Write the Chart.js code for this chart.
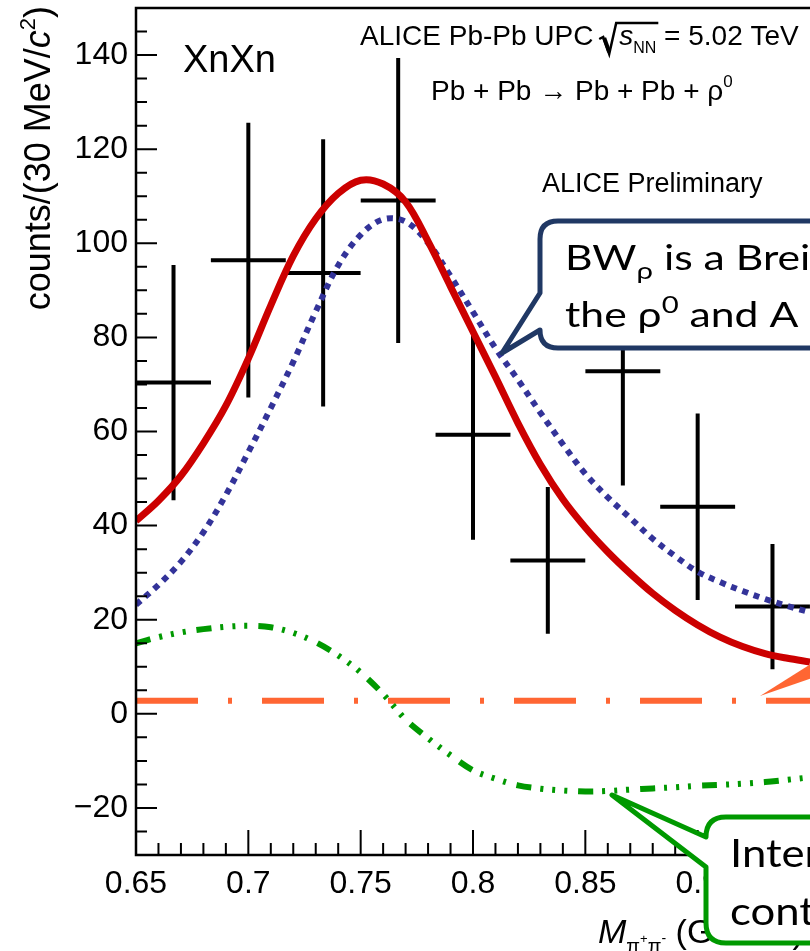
<!DOCTYPE html>
<html>
<head>
<meta charset="utf-8">
<script src="https://cdn.jsdelivr.net/npm/chart.js@4.4.1/dist/chart.umd.min.js"></script>
<style>
  html, body { margin: 0; padding: 0; background: #fff; overflow: hidden; }
</style>
</head>
<body>
<canvas id="massChart" width="810" height="951"></canvas>
<script>
// measured spectrum (bin centres in GeV/c^2, counts, symmetric stat. errors)
const binCenters = [0.6667, 0.7, 0.7333, 0.7667, 0.8, 0.8333, 0.8667, 0.9, 0.9333];
const binHalfWidth = 0.01667;
const counts = [70.4, 96.4, 93.7, 109.1, 59.3, 32.6, 72.8, 44.0, 22.8];
const countErrors = [25.0, 29.2, 28.4, 30.3, 22.3, 15.6, 24.3, 19.8, 13.3];

// fit components
const curveMass = [0.65, 0.66, 0.67, 0.68, 0.69, 0.70, 0.71, 0.72, 0.73, 0.74, 0.75,
                   0.76, 0.77, 0.78, 0.79, 0.80, 0.81, 0.82, 0.83, 0.84, 0.85,
                   0.86, 0.87, 0.88, 0.89, 0.90, 0.91, 0.92, 0.93, 0.94, 0.95];
const totalFit = [41.0, 45.3, 50.6, 57.5, 65.5, 75.5, 86.8, 97.3, 105.2, 110.6, 113.4,
                  112.6, 108.8, 100.4, 90.8, 81.2, 71.6, 61.8, 53.0, 45.6, 39.6,
                  34.4, 29.8, 25.6, 22.0, 18.9, 16.3, 14.3, 12.8, 11.8, 11.0];
const rhoBW = [23.2, 27.4, 32.3, 38.6, 46.5, 55.6, 65.0, 74.8, 85.5, 95.3, 101.8,
               105.1, 104.6, 100.1, 93.0, 85.4, 77.7, 71.0, 64.0, 57.3, 51.0,
               46.0, 41.6, 37.2, 33.5, 30.2, 28.0, 26.1, 24.4, 22.9, 21.6];
const interference = [15.0, 16.3, 17.3, 18.0, 18.5, 18.7, 18.4, 17.2, 15.2, 12.4, 8.8,
                      4.2, -1.2, -5.2, -8.8, -12.0, -13.8, -15.2, -15.9, -16.3, -16.5,
                      -16.4, -16.1, -15.85, -15.6, -15.3, -15.1, -14.85, -14.5, -14.0, -13.5];
const bkgMass = [0.65, 0.95];
const bkgLevel = [2.8, 2.8];

const xTickValues = [0.65, 0.7, 0.75, 0.8, 0.85, 0.9];
const yTickValues = [-20, 0, 20, 40, 60, 80, 100, 120, 140];
const xMinorStep = 0.01;
const yMinorStep = 5;

const LS = '"Liberation Sans", Arial, sans-serif';
const CAL = 'Lato, "Open Sans", sans-serif';

function toPoints(xs, ys) {
    return xs.map((v, i) => ({ x: v, y: ys[i] }));
}

function richWidth(ctx, parts) {
    let w = 0;
    for (const p of parts) { ctx.font = p.font; w += ctx.measureText(p.t).width; }
    return w;
}

function drawRich(ctx, parts, x, y) {
    for (const p of parts) {
        ctx.font = p.font;
        ctx.fillText(p.t, x, y + (p.dy || 0));
        x += ctx.measureText(p.t).width;
    }
    return x;
}

const overlayPlugin = {
    id: 'overlay',
    beforeDatasetsDraw(chart) {
        // error bars of the data points
        const { ctx, chartArea: a } = chart;
        const x = chart.scales.x, y = chart.scales.y;
        ctx.save();
        ctx.beginPath();
        ctx.rect(a.left, a.top, a.right - a.left, a.bottom - a.top);
        ctx.clip();
        ctx.strokeStyle = '#000';
        ctx.lineWidth = 4;
        binCenters.forEach((m, i) => {
            const px = x.getPixelForValue(m);
            const py = y.getPixelForValue(counts[i]);
            ctx.beginPath();
            ctx.moveTo(x.getPixelForValue(m - binHalfWidth), py);
            ctx.lineTo(x.getPixelForValue(m + binHalfWidth), py);
            ctx.moveTo(px, y.getPixelForValue(counts[i] + countErrors[i]));
            ctx.lineTo(px, y.getPixelForValue(counts[i] - countErrors[i]));
            ctx.stroke();
        });
        ctx.restore();
    },
    afterDatasetsDraw(chart) {
        // ROOT style frame with inward ticks
        const { ctx, chartArea: a } = chart;
        const x = chart.scales.x, y = chart.scales.y;
        ctx.save();
        ctx.strokeStyle = '#000';
        ctx.lineWidth = 2.5;
        ctx.beginPath();
        ctx.moveTo(a.right + 5, a.top);
        ctx.lineTo(a.left, a.top);
        ctx.lineTo(a.left, a.bottom);
        ctx.lineTo(a.right + 5, a.bottom);
        ctx.stroke();

        ctx.lineWidth = 2;
        ctx.beginPath();
        for (let v = y.min; v <= y.max + 1e-9; v += yMinorStep) {
            const py = y.getPixelForValue(v);
            const major = yTickValues.some(t => Math.abs(t - v) < 1e-6);
            ctx.moveTo(a.left, py);
            ctx.lineTo(a.left + (major ? 21 : 11), py);
        }
        for (let k = 0; ; k++) {
            const v = x.min + k * xMinorStep;
            if (v > x.max + 1e-9) break;
            const px = x.getPixelForValue(v);
            const major = xTickValues.some(t => Math.abs(t - v) < 1e-6) || Math.abs(v - 0.95) < 1e-6;
            ctx.moveTo(px, a.bottom);
            ctx.lineTo(px, a.bottom - (major ? 25 : 12));
        }
        ctx.stroke();
        ctx.restore();
    },
    afterDraw(chart) {
        const { ctx } = chart;
        ctx.save();
        ctx.fillStyle = '#000';
        ctx.textBaseline = 'alphabetic';
        ctx.textAlign = 'left';

        // y axis title, rotated, right-aligned to the top of the axis
        const yTitle = [
            { t: 'counts/(30 MeV/', font: `36px ${LS}` },
            { t: 'c', font: `italic 36px ${LS}` },
            { t: '2', font: `22px ${LS}`, dy: -15 },
            { t: ')', font: `36px ${LS}` }
        ];
        ctx.save();
        ctx.translate(50, 0);
        ctx.rotate(-Math.PI / 2);
        drawRich(ctx, yTitle, -(6 + richWidth(ctx, yTitle)), 0);
        ctx.restore();

        // x axis title
        drawRich(ctx, [
            { t: 'M', font: `italic 34px ${LS}` },
            { t: 'π', font: `20px ${LS}`, dy: 10 },
            { t: '+', font: `13px ${LS}`, dy: 0 },
            { t: 'π', font: `20px ${LS}`, dy: 10 },
            { t: '-', font: `14px ${LS}`, dy: 0 },
            { t: ' (GeV/', font: `34px ${LS}` },
            { t: 'c', font: `italic 34px ${LS}` },
            { t: '2', font: `20px ${LS}`, dy: -14 },
            { t: ')', font: `34px ${LS}` }
        ], 598, 943);

        // labels inside the frame
        ctx.font = `38px ${LS}`;
        ctx.fillText('XnXn', 183, 72);

        let cx = drawRich(ctx, [{ t: 'ALICE Pb-Pb UPC ', font: `28px ${LS}` }], 360, 45);
        ctx.font = `italic 28px ${LS}`;
        const sW = ctx.measureText('s').width;
        ctx.font = `16px ${LS}`;
        const nnW = ctx.measureText('NN').width;
        ctx.strokeStyle = '#000';
        ctx.lineWidth = 2.5;
        ctx.beginPath();
        ctx.moveTo(cx - 2, 39);
        ctx.lineTo(cx + 2, 37);
        ctx.lineTo(cx + 8, 54);
        ctx.lineTo(cx + 15, 23);
        ctx.lineTo(cx + 20 + sW + nnW, 23);
        ctx.stroke();
        ctx.lineWidth = 4;
        ctx.beginPath();
        ctx.moveTo(cx + 3, 38);
        ctx.lineTo(cx + 8, 52);
        ctx.stroke();
        drawRich(ctx, [
            { t: 's', font: `italic 28px ${LS}` },
            { t: 'NN', font: `16px ${LS}`, dy: 8 },
            { t: ' = 5.02 TeV', font: `28px ${LS}` }
        ], cx + 18, 45);

        drawRich(ctx, [
            { t: 'Pb + Pb \u2192 Pb + Pb + \u03c1', font: `28px ${LS}` },
            { t: '0', font: `17px ${LS}`, dy: -13 }
        ], 431, 100);

        ctx.font = `27px ${LS}`;
        ctx.fillText('ALICE Preliminary', 542, 192);

        // orange pointer from the off-page background box
        ctx.fillStyle = '#ff6633';
        ctx.beginPath();
        ctx.moveTo(760, 696);
        ctx.lineTo(830, 652);
        ctx.lineTo(830, 672);
        ctx.closePath();
        ctx.fill();

        // callout boxes
        function callout(color, L, T, R, B, r, tip, up, low) {
            ctx.beginPath();
            ctx.moveTo(L + r, T);
            ctx.lineTo(R, T);
            ctx.lineTo(R, B);
            ctx.lineTo(L + r, B);
            ctx.quadraticCurveTo(L, B, L, B - r);
            ctx.lineTo(L, low);
            ctx.lineTo(tip[0], tip[1]);
            ctx.lineTo(L, up);
            ctx.lineTo(L, T + r);
            ctx.quadraticCurveTo(L, T, L + r, T);
            ctx.closePath();
            ctx.fillStyle = '#fff';
            ctx.fill();
            ctx.strokeStyle = color;
            ctx.lineWidth = 5;
            ctx.lineJoin = 'round';
            ctx.stroke();
        }
        callout('#203864', 540, 221, 880, 348, 18, [502, 353], 293, 330);
        callout('#009900', 706, 817, 880, 943, 20, [612, 795], 837, 867);

        ctx.fillStyle = '#000';
        ctx.save();
        ctx.translate(565, 270);
        ctx.scale(1.22, 1);
        drawRich(ctx, [
            { t: 'BW', font: `35px ${CAL}` },
            { t: '\u03c1', font: `24px ${CAL}`, dy: 9 },
            { t: ' is a Breit-Wigner', font: `35px ${CAL}` }
        ], 0, 0);
        drawRich(ctx, [
            { t: 'the \u03c1', font: `35px ${CAL}` },
            { t: '0', font: `24px ${CAL}`, dy: -14 },
            { t: ' and A', font: `35px ${CAL}` }
        ], 0, 57);
        ctx.restore();

        ctx.save();
        ctx.translate(730, 867);
        ctx.scale(1.12, 1);
        ctx.font = `39px ${CAL}`;
        ctx.fillText('Interference', 0, 0);
        ctx.fillText('contribution', 0, 58);
        ctx.restore();

        ctx.restore();
    }
};

const config = {
    type: 'line',
    data: {
        datasets: [
            {
                label: 'fit',
                data: toPoints(curveMass, totalFit),
                borderColor: '#cc0000',
                borderWidth: 7,
                pointRadius: 0,
                tension: 0.35
            },
            {
                label: 'BW rho',
                data: toPoints(curveMass, rhoBW),
                borderColor: '#333399',
                borderWidth: 6,
                borderDash: [6, 6],
                pointRadius: 0,
                tension: 0.35
            },
            {
                label: 'interference',
                data: toPoints(curveMass, interference),
                borderColor: '#009900',
                borderWidth: 6,
                borderDash: [15, 9, 3, 9, 3, 9, 3, 11],
                pointRadius: 0,
                tension: 0.35
            },
            {
                label: 'background',
                data: toPoints(bkgMass, bkgLevel),
                borderColor: '#ff6633',
                borderWidth: 6,
                borderDash: [62, 30, 4, 30],
                pointRadius: 0
            },
            {
                type: 'scatter',
                label: 'data',
                data: toPoints(binCenters, counts),
                pointRadius: 0,
                showLine: false
            }
        ]
    },
    options: {
        responsive: false,
        animation: false,
        layout: { padding: { left: 0, top: 8, right: 0, bottom: 0 } },
        plugins: { legend: { display: false }, tooltip: { enabled: false } },
        scales: {
            x: {
                type: 'linear',
                min: 0.65,
                max: 0.95,
                grid: { display: false, drawTicks: false },
                border: { display: false },
                afterBuildTicks: s => { s.ticks = xTickValues.map(v => ({ value: v })); },
                afterFit: s => { s.height = 96; s.paddingLeft = 0; s.paddingRight = 0; },
                ticks: {
                    autoSkip: false,
                    maxRotation: 0,
                    padding: 10,
                    color: '#000',
                    font: { family: LS, size: 32 },
                    callback: v => String(v)
                }
            },
            y: {
                type: 'linear',
                min: -30,
                max: 150,
                grid: { display: false, drawTicks: false },
                border: { display: false },
                afterBuildTicks: s => { s.ticks = yTickValues.map(v => ({ value: v })); },
                afterFit: s => { s.width = 136; s.paddingTop = 0; s.paddingBottom = 0; },
                ticks: {
                    padding: 8,
                    color: '#000',
                    font: { family: LS, size: 32 },
                    callback: v => (v < 0 ? '\u2212' + Math.abs(v) : String(v))
                }
            }
        }
    },
    plugins: [overlayPlugin]
};

const massChart = new Chart(document.getElementById('massChart').getContext('2d'), config);
</script>
</body>
</html>
